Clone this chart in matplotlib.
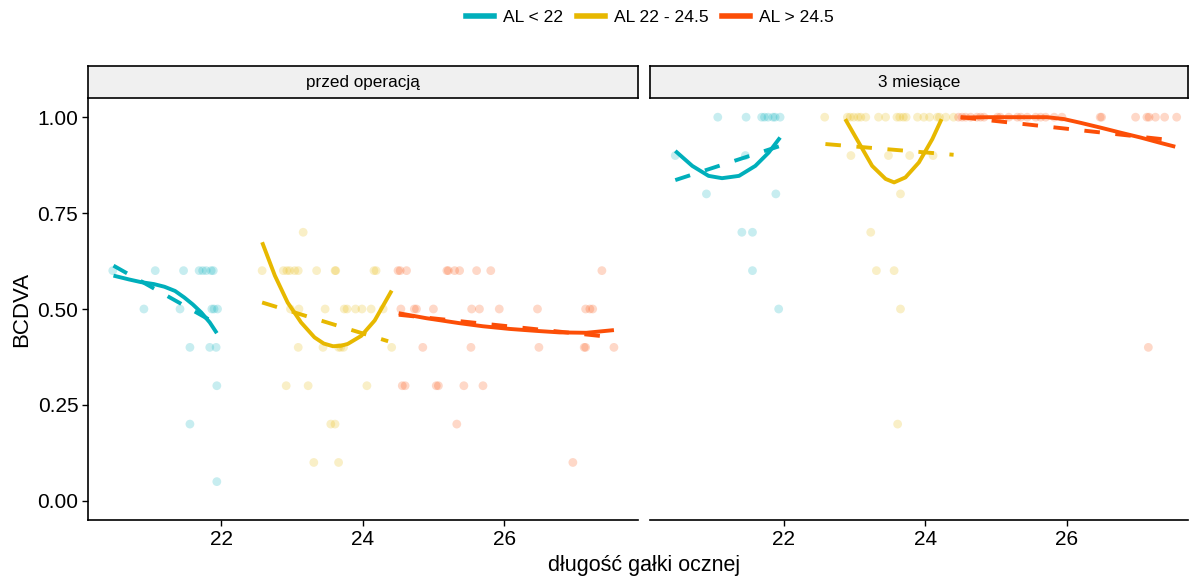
import numpy as np
import matplotlib
matplotlib.use("Agg")
import matplotlib.pyplot as plt
from matplotlib.lines import Line2D

plt.rcParams['font.family'] = ['Liberation Sans', 'DejaVu Sans']

# colours per group
groups = ['AL < 22', 'AL 22 - 24.5', 'AL > 24.5']
colors = ['#00AFBB', '#E7B800', '#FC4E07']
panels = ['przed operacją', '3 miesiące']

# ---- points, panel 1 (przed operacją) ----
pre_cyan_x = [20.47, 21.07, 21.47, 21.69, 21.74, 21.79, 21.86, 21.89,
              20.91, 21.42, 21.87, 21.90, 21.95,
              21.56, 21.84, 21.93, 21.94, 21.56, 21.94]
pre_cyan_y = [0.6, 0.6, 0.6, 0.6, 0.6, 0.6, 0.6, 0.6,
              0.5, 0.5, 0.5, 0.5, 0.5,
              0.4, 0.4, 0.4, 0.3, 0.2, 0.05]
pre_yel_x = [23.16,
             22.58, 22.88, 22.93, 22.97, 23.04, 23.09, 23.35, 23.61, 23.62, 24.16, 24.19,
             22.98, 23.10, 23.47, 23.74, 23.78, 23.90, 23.99, 24.12, 24.29,
             23.09, 23.44, 23.66, 23.69, 23.73, 24.41,
             22.92, 23.23, 24.06, 23.55, 23.61, 23.31, 23.66]
pre_yel_y = [0.7,
             0.6, 0.6, 0.6, 0.6, 0.6, 0.6, 0.6, 0.6, 0.6, 0.6, 0.6,
             0.5, 0.5, 0.5, 0.5, 0.5, 0.5, 0.5, 0.5, 0.5,
             0.4, 0.4, 0.4, 0.4, 0.4, 0.4,
             0.3, 0.3, 0.3, 0.2, 0.2, 0.1, 0.1]
pre_ora_x = [24.50, 24.53, 24.62, 25.19, 25.21, 25.30, 25.37, 25.61, 25.81, 27.38,
             24.54, 24.73, 24.76, 25.00, 25.54, 25.65, 25.93, 26.47, 27.15, 27.21, 27.25,
             24.85, 25.53, 26.49, 27.13, 27.15, 27.55,
             24.56, 24.60, 25.04, 25.07, 25.43, 25.70, 25.33, 26.97]
pre_ora_y = [0.6] * 10 + [0.5] * 11 + [0.4] * 6 + [0.3] * 6 + [0.2, 0.1]

# ---- points, panel 2 (3 miesiące) ----
post_cyan_x = [21.07, 21.47, 21.69, 21.73, 21.78, 21.85, 21.88, 21.95,
               20.47, 21.46, 20.91, 21.89, 21.41, 21.56, 21.56, 21.93]
post_cyan_y = [1.0] * 8 + [0.9, 0.9, 0.8, 0.8, 0.7, 0.7, 0.6, 0.5]
post_yel_x = [22.58, 22.90, 22.94, 22.99, 23.05, 23.09, 23.16, 23.34, 23.44, 23.60,
              23.64, 23.69, 23.73, 23.89, 23.98, 24.06, 24.17, 24.20, 24.29, 24.40,
              22.95, 23.48, 23.78, 24.11, 23.65, 23.23, 23.31, 23.56, 23.65, 23.61]
post_yel_y = [1.0] * 20 + [0.9, 0.9, 0.9, 0.9, 0.8, 0.7, 0.6, 0.6, 0.5, 0.2]
post_ora_x = [24.47, 24.52, 24.57, 24.64, 24.73, 24.78, 24.83, 25.02, 25.06, 25.18,
              25.30, 25.35, 25.44, 25.56, 25.63, 25.70, 25.82, 25.93, 26.47, 26.49,
              26.97, 27.13, 27.16, 27.25, 27.38, 27.55, 27.15]
post_ora_y = [1.0] * 26 + [0.4]

# ---- smooth (loess) curves ----
pre_cyan_loess_x = [20.48, 20.70, 20.87, 21.05, 21.20, 21.35, 21.48, 21.60, 21.72, 21.84, 21.94]
pre_cyan_loess_y = [0.587, 0.577, 0.570, 0.565, 0.558, 0.547, 0.530, 0.512, 0.491, 0.465, 0.437]
pre_yel_loess_x = [22.58, 22.76, 22.94, 23.13, 23.32, 23.45, 23.58, 23.69, 23.79, 23.98, 24.17, 24.41]
pre_yel_loess_y = [0.674, 0.587, 0.517, 0.465, 0.426, 0.410, 0.403, 0.404, 0.409, 0.430, 0.470, 0.548]
pre_ora_loess_x = [24.51, 24.90, 25.37, 25.70, 26.08, 26.45, 26.78, 27.16, 27.55]
pre_ora_loess_y = [0.489, 0.476, 0.463, 0.455, 0.448, 0.443, 0.439, 0.438, 0.445]
post_cyan_loess_x = [20.47, 20.71, 20.94, 21.13, 21.37, 21.60, 21.79, 21.95]
post_cyan_loess_y = [0.912, 0.873, 0.847, 0.841, 0.847, 0.873, 0.908, 0.947]
post_yel_loess_x = [22.87, 23.06, 23.25, 23.44, 23.56, 23.72, 23.91, 24.10, 24.23]
post_yel_loess_y = [0.995, 0.934, 0.873, 0.839, 0.830, 0.843, 0.882, 0.943, 0.995]
post_ora_loess_x = [24.50, 24.90, 25.20, 25.50, 25.72, 25.96, 26.20, 26.47, 26.75, 27.04, 27.30, 27.53]
post_ora_loess_y = [0.999, 1.000, 1.000, 1.000, 1.000, 0.995, 0.985, 0.973, 0.960, 0.947, 0.934, 0.923]

# ---- linear fits (dashed), end points ----
pre_cyan_lm_x, pre_cyan_lm_y = [20.48, 21.94], [0.613, 0.461]
pre_yel_lm_x, pre_yel_lm_y = [22.58, 24.36], [0.517, 0.416]
pre_ora_lm_x, pre_ora_lm_y = [24.51, 27.55], [0.485, 0.426]
post_cyan_lm_x, post_cyan_lm_y = [20.47, 21.95], [0.836, 0.925]
post_yel_lm_x, post_yel_lm_y = [22.59, 24.40], [0.930, 0.902]
post_ora_lm_x, post_ora_lm_y = [24.50, 27.53], [1.000, 0.939]

panel_data = [
    [(pre_cyan_x, pre_cyan_y, pre_cyan_loess_x, pre_cyan_loess_y, pre_cyan_lm_x, pre_cyan_lm_y),
     (pre_yel_x, pre_yel_y, pre_yel_loess_x, pre_yel_loess_y, pre_yel_lm_x, pre_yel_lm_y),
     (pre_ora_x, pre_ora_y, pre_ora_loess_x, pre_ora_loess_y, pre_ora_lm_x, pre_ora_lm_y)],
    [(post_cyan_x, post_cyan_y, post_cyan_loess_x, post_cyan_loess_y, post_cyan_lm_x, post_cyan_lm_y),
     (post_yel_x, post_yel_y, post_yel_loess_x, post_yel_loess_y, post_yel_lm_x, post_yel_lm_y),
     (post_ora_x, post_ora_y, post_ora_loess_x, post_ora_loess_y, post_ora_lm_x, post_ora_lm_y)],
]

W, H = 1190, 576
fig = plt.figure(figsize=(W / 100, H / 100), dpi=100)

def px(x0, y0, x1, y1):
    return [x0 / W, 1 - y1 / H, (x1 - x0) / W, (y1 - y0) / H]

ax_pos = [(88, 98, 638, 520), (650.5, 98, 1188, 520)]
xlims = [(20.12, 27.89), (20.12, 27.71)]

for i, (pos, name) in enumerate(zip(ax_pos, panels)):
    ax = fig.add_axes(px(*pos))
    for (gx, gy, lx, ly, mx, my), c in zip(panel_data[i], colors):
        ax.scatter(gx, gy, s=40, color=c, alpha=0.22, edgecolors='none', zorder=2)
        ax.plot(lx, ly, color=c, lw=2.8, solid_capstyle='butt', solid_joinstyle='round', zorder=3)
        ax.plot(mx, my, color=c, lw=2.8, ls=(0, (4, 4)), dash_capstyle='butt', zorder=3)
    ax.set_xlim(*xlims[i])
    ax.set_ylim(-0.05, 1.05)
    ax.set_xticks([22, 24, 26])
    ax.set_yticks([0, 0.25, 0.5, 0.75, 1.0])
    ax.set_yticklabels(['0.00', '0.25', '0.50', '0.75', '1.00'])
    ax.tick_params(labelsize=15, length=4, width=1, colors='black', pad=3)
    for s in ['top', 'right']:
        ax.spines[s].set_visible(False)
    ax.spines['bottom'].set_linewidth(1.2)
    ax.spines['left'].set_linewidth(1.2)
    if i == 1:
        ax.spines['left'].set_visible(False)
        ax.tick_params(axis='y', left=False, labelleft=False)
    else:
        ax.set_ylabel('BCDVA', fontsize=16, labelpad=4)

    # facet strip
    sx0, _, sx1, _ = pos
    sax = fig.add_axes(px(sx0, 66, sx1, 98))
    sax.set_facecolor('#F0F0F0')
    sax.set_xticks([])
    sax.set_yticks([])
    for s in sax.spines.values():
        s.set_linewidth(1.2)
    sax.text(0.5, 0.5, name, ha='center', va='center', fontsize=12.3, transform=sax.transAxes)

fig.text(644 / W, 1 - 565 / H, 'długość gałki ocznej', ha='center', va='center', fontsize=15.5)

handles = [Line2D([0], [0], color=c, lw=4) for c in colors]
fig.legend(handles, groups, loc='center', bbox_to_anchor=(650 / W, 1 - 17 / H), ncol=3,
           frameon=False, fontsize=12.6, handlelength=1.6, columnspacing=0.8, handletextpad=0.5)

fig.savefig('out.png', dpi=100)
